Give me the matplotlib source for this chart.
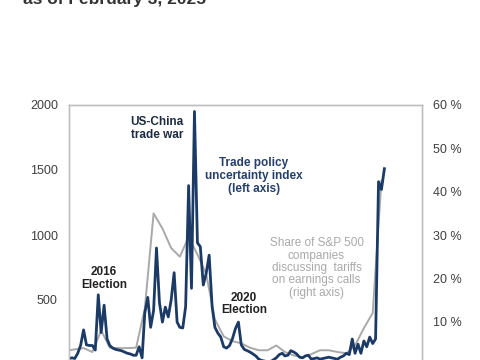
import pandas as pd
import matplotlib.pyplot as plt
from matplotlib.ticker import FuncFormatter

plt.rcParams['font.family'] = ['Liberation Sans', 'DejaVu Sans']

# Trade policy uncertainty index, monthly Jan 2016 - Jan 2025 (left axis)
tpu_dates = pd.date_range('2016-01-01', '2025-01-01', freq='MS')
tpu_values = [
    50, 55, 50, 90, 150, 270, 155, 150, 150, 115, 540, 250,
    460, 200, 150, 130, 120, 115, 110, 100, 90, 85, 75, 75,
    140, 55, 400, 520, 290, 420, 900, 480, 330, 445, 370, 500,
    710, 330, 290, 285, 450, 1380, 590, 1950, 940, 910, 615, 705,
    845, 450, 290, 245, 215, 140, 130, 150, 205, 280, 330, 155,
    120, 110, 100, 85, 70, 45, 35, 30, 25, 25, 40, 55,
    80, 90, 70, 75, 110, 100, 85, 60, 55, 70, 75, 45,
    50, 55, 45, 50, 55, 60, 55, 50, 45, 60, 70, 90,
    80, 200, 90, 160, 90, 185, 140, 215, 165, 200, 1410, 1350,
    1510,
]

# Share of S&P 500 companies discussing tariffs on earnings calls, quarterly (right axis, %)
share_dates = pd.DatetimeIndex(['2015-12-01']).append(
    pd.date_range('2016-03-01', '2024-12-01', freq='3MS'))
share_values = [
    3.3, 3.6, 3.9, 3.0, 8.0, 4.0, 3.9, 3.9, 4.0, 13.0, 35.0, 31.5,
    27.0, 25.0, 29.5, 25.5, 21.0, 10.5, 6.6, 5.5, 5.0, 4.0, 3.4, 3.4,
    4.5, 3.0, 2.2, 1.8, 2.5, 3.4, 3.4, 3.0, 2.7, 4.5, 8.5, 12.0,
    42.5,
]

left_ticks = [0, 500, 1000, 1500, 2000]
right_ticks = [0, 10, 20, 30, 40, 50, 60]

navy = '#1b3b66'
grey = '#a9a9a9'
spine_col = '#bfbfbf'
tick_col = '#404040'

fig = plt.figure(figsize=(4.8, 3.6), dpi=100)
ax = fig.add_axes([69 / 480, 1 - 365 / 360, 353 / 480, 260 / 360])
ax2 = ax.twinx()

ax2.plot(share_dates, share_values, color=grey, lw=1.4)
ax.plot(tpu_dates, tpu_values, color=navy, lw=2.0)

# blue line drawn above the grey one
ax.set_zorder(ax2.get_zorder() + 1)
ax.patch.set_visible(False)

ax.set_xlim(pd.Timestamp('2016-01-01'), pd.Timestamp('2026-01-28'))
ax.set_ylim(0, 2000)
ax2.set_ylim(0, 60)
ax.set_yticks(left_ticks)
ax2.set_yticks(right_ticks)
ax2.yaxis.set_major_formatter(FuncFormatter(lambda v, p: f'{v:.0f} %'))
ax.set_xticks([])

for a in (ax, ax2):
    for s in a.spines.values():
        s.set_color(spine_col)
        s.set_linewidth(1.0)
    a.tick_params(axis='y', length=0, labelsize=9, colors=tick_col, pad=8)

# annotations
def px(x, y):
    return x / 480, 1 - y / 360

fig.text(*px(23, 4), 'as of February 3, 2025', fontsize=12.5, fontweight='bold',
         color='#333333', ha='left', va='baseline')
fig.text(*px(157, 128.5), 'US-China\ntrade war', fontsize=8.5, fontweight='bold',
         color='#1c2a43', ha='center', va='center', linespacing=1.1)
fig.text(*px(254, 176), 'Trade policy\nuncertainty index\n(left axis)', fontsize=8.5,
         fontweight='bold', color='#27406b', ha='center', va='center', linespacing=1.1)
fig.text(*px(104, 278.5), '2016\nElection', fontsize=8.5, fontweight='bold',
         color='#222222', ha='center', va='center', linespacing=1.1)
fig.text(*px(244, 304), '2020\nElection', fontsize=8.5, fontweight='bold',
         color='#222222', ha='center', va='center', linespacing=1.1)
fig.text(*px(316.5, 268),
         'Share of S&P 500\ncompanies\ndiscussing  tariffs\non earnings calls\n(right axis)',
         fontsize=8.5, color=grey, ha='center', va='center', linespacing=1.05)

fig.savefig('out.png', dpi=100)
